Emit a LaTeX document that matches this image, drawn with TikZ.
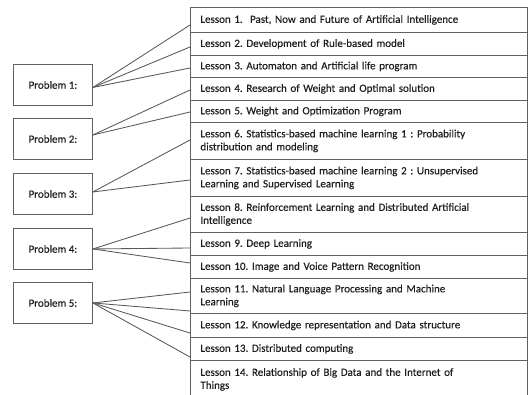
\documentclass[tikz,border=0pt]{standalone}
\usepackage{fontspec}
\setmainfont{Carlito}
\newfontfamily\lessonfont{Carlito}[FakeBold=0.35]
\frenchspacing
\begin{document}
\begin{tikzpicture}[x=1pt,y=-1pt,
  lesson/.style={draw=black!62,line width=0.9pt,anchor=north west,minimum width=337pt,
    text width=317pt,inner xsep=10pt,inner ysep=0pt,align=left,font=\lessonfont\fontsize{11}{13}\selectfont,text=black!88},
  problem/.style={draw=black!62,line width=0.9pt,anchor=north west,minimum width=79pt,minimum height=41pt,
    inner sep=0pt,font=\lessonfont\fontsize{11}{13}\selectfont,text=black!88},
  link/.style={draw=black!65,line width=0.85pt}]
\clip (0,0) rectangle (529,395);
\fill[white] (0,0) rectangle (529,395);
% lessons
\node[lesson,minimum height=25pt] (l1) at (190,7) {Lesson 1.\ \ Past, Now and Future of Artificial Intelligence};
\node[lesson,minimum height=23pt] (l2) at (190,32) {Lesson 2. Development of Rule-based model};
\node[lesson,minimum height=22pt] (l3) at (190,55) {Lesson 3. Automaton and Artificial life program};
\node[lesson,minimum height=23pt] (l4) at (190,77) {Lesson 4. Research of Weight and Optimal solution};
\node[lesson,minimum height=22pt] (l5) at (190,100) {Lesson 5. Weight and Optimization Program};
\node[lesson,minimum height=37pt] (l6) at (190,122) {Lesson 6. Statistics-based machine learning 1 : Probability\\distribution and modeling};
\node[lesson,minimum height=37pt] (l7) at (190,159) {Lesson 7. Statistics-based machine learning 2 : Unsupervised\\Learning and Supervised Learning};
\node[lesson,minimum height=36pt] (l8) at (190,196) {Lesson 8. Reinforcement Learning and Distributed Artificial\\Intelligence};
\node[lesson,minimum height=23pt] (l9) at (190,232) {Lesson 9. Deep Learning};
\node[lesson,minimum height=23pt] (l10) at (190,255) {Lesson 10. Image and Voice Pattern Recognition};
\node[lesson,minimum height=35pt] (l11) at (190,278) {Lesson 11. Natural Language Processing and Machine\\Learning};
\node[lesson,minimum height=24pt] (l12) at (190,313) {Lesson 12. Knowledge representation and Data structure};
\node[lesson,minimum height=23pt] (l13) at (190,337) {Lesson 13. Distributed computing};
\node[lesson,minimum height=38pt] (l14) at (190,360) {Lesson 14. Relationship of Big Data and the Internet of\\Things};
% problems
\node[problem] (p1) at (13,64) {Problem 1:};
\node[problem] (p2) at (13,118) {Problem 2:};
\node[problem] (p3) at (13,173) {Problem 3:};
\node[problem] (p4) at (13,228) {Problem 4:};
\node[problem] (p5) at (13,282) {Problem 5:};
% connectors
\foreach \t/\s in {l1/-18,l2/-15,l3/-13} \draw[link] ([yshift=-2.5pt]p1.east) -- ([yshift=\s pt]\t.north west);
\foreach \t/\s in {l4/-13,l5/-12} \draw[link] ([yshift=4pt]p2.east) -- ([yshift=\s pt]\t.north west);
\foreach \t/\s in {l6/-18,l7/-21} \draw[link] ([yshift=2pt]p3.east) -- ([yshift=\s pt]\t.north west);
\foreach \t/\s in {l8/-22,l9/-16,l10/-8} \draw[link] (p4.east) -- ([yshift=\s pt]\t.north west);
\foreach \t/\s in {l11/-14,l12/2,l13/4,l14/3} \draw[link] (p5.east) -- ([yshift=\s pt]\t.north west);
\end{tikzpicture}
\end{document}
